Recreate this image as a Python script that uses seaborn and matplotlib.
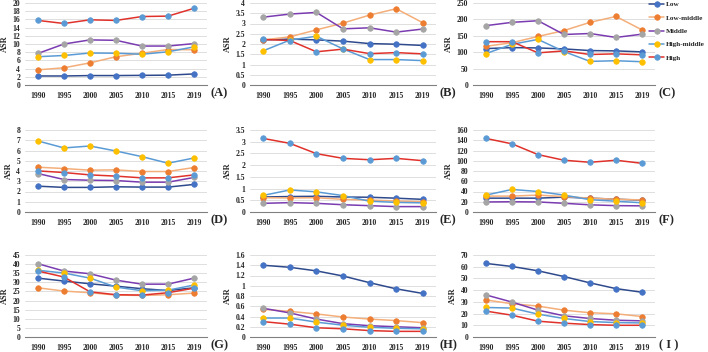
import matplotlib
matplotlib.use('Agg')
import matplotlib.pyplot as plt
import numpy as np
import pandas as pd
import seaborn as sns

# Age-standardised rates by SDI group, 1990-2019, one panel per measure.
years = ['1990', '1995', '2000', '2005', '2010', '2015', '2019']
groups = ['Low', 'Low-middle', 'Middle', 'High-middle', 'High']
panel_tags = ['(A)', '(B)', '(C)', '(D)', '(E)', '(F)', '(G)', '(H)', '( I )']

asr_a = {
    'Low':         [2.2, 2.2, 2.3, 2.3, 2.35, 2.4, 2.7],
    'Low-middle':  [3.7, 4.2, 5.4, 6.9, 7.75, 8.65, 8.6],
    'Middle':      [7.7, 10.0, 11.0, 10.9, 9.5, 9.5, 10.1],
    'High-middle': [6.9, 7.2, 7.8, 7.75, 7.5, 8.1, 9.3],
    'High':        [15.75, 15.0, 15.9, 15.75, 16.7, 16.8, 18.7],
}
asr_b = {
    'Low':         [2.2, 2.24, 2.2, 2.14, 2.02, 1.99, 1.93],
    'Low-middle':  [2.2, 2.35, 2.69, 3.02, 3.41, 3.72, 3.04],
    'Middle':      [3.31, 3.46, 3.54, 2.74, 2.79, 2.58, 2.73],
    'High-middle': [1.67, 2.19, 2.38, 1.76, 1.24, 1.24, 1.19],
    'High':        [2.22, 2.17, 1.62, 1.75, 1.53, 1.58, 1.52],
}
asr_c = {
    'Low':         [111, 114, 113, 110, 105, 104, 101],
    'Low-middle':  [118, 129, 148, 166, 191, 209, 168],
    'Middle':      [181, 191, 196, 154, 157, 145, 155],
    'High-middle': [96, 124, 139, 102, 72, 74, 71],
    'High':        [132, 132, 98, 104, 93, 95, 92],
}
asr_d = {
    'Low':         [2.52, 2.4, 2.4, 2.46, 2.43, 2.43, 2.69],
    'Low-middle':  [4.37, 4.24, 4.08, 4.11, 3.95, 3.95, 4.34],
    'Middle':      [3.75, 3.17, 3.1, 3.07, 2.91, 2.91, 3.37],
    'High-middle': [6.93, 6.25, 6.44, 5.95, 5.4, 4.76, 5.27],
    'High':        [4.01, 3.85, 3.62, 3.5, 3.33, 3.33, 3.62],
}
asr_e = {
    'Low':         [0.64, 0.66, 0.67, 0.64, 0.63, 0.59, 0.54],
    'Low-middle':  [0.61, 0.6, 0.61, 0.54, 0.51, 0.47, 0.44],
    'Middle':      [0.37, 0.4, 0.37, 0.31, 0.27, 0.23, 0.23],
    'High-middle': [0.71, 0.94, 0.86, 0.7, 0.46, 0.41, 0.39],
    'High':        [3.14, 2.93, 2.49, 2.29, 2.23, 2.29, 2.19],
}
asr_f = {
    'Low':         [27, 27, 27, 29, 27, 25, 23],
    'Low-middle':  [31, 31, 33, 30, 27, 25, 23.5],
    'Middle':      [19.6, 20, 19.6, 17, 14, 12.4, 12],
    'High-middle': [33, 44, 40, 33, 24, 21, 18],
    'High':        [143.5, 133, 112, 101, 97, 101, 95],
}
asr_g = {
    'Low':         [32.3, 30.7, 29.2, 27.9, 26.5, 25.5, 27.0],
    'Low-middle':  [27.0, 25.2, 24.3, 23.0, 22.8, 23.2, 24.1],
    'Middle':      [40.2, 36.2, 34.7, 31.2, 29.0, 29.0, 32.3],
    'High-middle': [36.6, 35.1, 32.3, 27.4, 25.4, 25.7, 28.5],
    'High':        [36.2, 32.9, 24.8, 23.2, 23.0, 24.3, 26.8],
}
asr_h = {
    'Low':         [1.40, 1.36, 1.29, 1.19, 1.06, 0.94, 0.85],
    'Low-middle':  [0.54, 0.5, 0.45, 0.39, 0.35, 0.32, 0.28],
    'Middle':      [0.56, 0.47, 0.35, 0.26, 0.22, 0.2, 0.18],
    'High-middle': [0.37, 0.37, 0.29, 0.23, 0.19, 0.17, 0.16],
    'High':        [0.3, 0.25, 0.18, 0.16, 0.125, 0.11, 0.11],
}
asr_i = {
    'Low':         [62.8, 60.2, 56.5, 51.6, 46.2, 41.3, 38.2],
    'Low-middle':  [31.6, 28.4, 26.4, 22.9, 20.7, 19.8, 17.5],
    'Middle':      [35.9, 29.8, 22.9, 18.1, 15.8, 14.3, 13.8],
    'High-middle': [25.2, 24.7, 19.5, 15.8, 13.2, 12.3, 12.0],
    'High':        [22.1, 18.6, 13.5, 11.8, 10.6, 10.0, 10.0],
}
panels = [asr_a, asr_b, asr_c, asr_d, asr_e, asr_f, asr_g, asr_h, asr_i]
y_max = [20, 4, 250, 8, 3.5, 160, 45, 1.6, 70]
y_step = [2, 0.5, 50, 1, 0.5, 20, 5, 0.2, 10]

# Excel-style: line colour and marker colour differ per series
line_colors = {'Low': '#2F4A8C', 'Low-middle': '#F4AE7A', 'Middle': '#7A3CB0',
               'High-middle': '#5B9BD5', 'High': '#E0322B'}
marker_colors = {'Low': '#4472C4', 'Low-middle': '#ED7D31', 'Middle': '#A5A5A5',
                 'High-middle': '#FFC000', 'High': '#5B9BD5'}

sns.set_style('white')
plt.rcParams['font.family'] = ['Liberation Serif', 'DejaVu Serif']
plt.rcParams['font.weight'] = 'bold'

fig = plt.figure(figsize=(7.08, 3.52), dpi=100)
W, H = 708, 352
col_px = [(25, 207), (250, 436), (473, 655)]
row_px = [(3, 85), (130, 212), (255, 337)]

axes = []
for r, (top, bot) in enumerate(row_px):
    for c, (left, right) in enumerate(col_px):
        axes.append(fig.add_axes([left / W, 1 - bot / H, (right - left) / W, (bot - top) / H]))

for i, (ax, data) in enumerate(zip(axes, panels)):
    for g in groups:
        df = pd.DataFrame({'year': years, 'asr': data[g]})
        sns.lineplot(data=df, x='year', y='asr', ax=ax, sort=False, errorbar=None,
                     color=line_colors[g], linewidth=1.1, marker='o', markersize=4,
                     label=g, legend=False)
        line = ax.lines[-1]
        line.set_markerfacecolor(marker_colors[g])
        line.set_markeredgecolor(marker_colors[g])
        line.set_markeredgewidth(0.5)
    ax.set_xlim(-0.5, len(years) - 0.5)
    ax.set_ylim(0, y_max[i])
    ticks = np.arange(0, y_max[i] + y_step[i] / 2, y_step[i])
    ax.set_yticks(ticks)
    ax.set_yticklabels([f'{t:g}' for t in ticks])
    ax.yaxis.grid(True, color='#D9D9D9', linewidth=0.6)
    ax.set_axisbelow(True)
    for s in ['top', 'right', 'left']:
        ax.spines[s].set_visible(False)
    ax.spines['bottom'].set_color('#808080')
    ax.spines['bottom'].set_linewidth(0.8)
    ax.set_xticks(range(len(years)))
    ax.set_xticklabels(years)
    ax.set_xticks(np.arange(-0.5, len(years), 1.0), minor=True)
    ax.tick_params(axis='x', which='major', length=0, labelsize=5.5, pad=5)
    ax.tick_params(axis='x', which='minor', length=2.5, width=0.6, color='#808080', direction='out')
    ax.tick_params(axis='y', length=0, labelsize=5.5, pad=3.5)
    ax.set_xlabel('')
    ax.set_ylabel('ASR', fontsize=6, fontweight='bold', labelpad=2.5)
    ax.text(1.02, -0.1, panel_tags[i], transform=ax.transAxes, ha='left', va='center',
            fontsize=9, fontweight='bold')

handles, labels = axes[2].get_legend_handles_labels()
fig.legend(handles[:5], labels[:5], loc='upper left', bbox_to_anchor=(648 / W, 1.0),
           frameon=False, fontsize=5.2, handlelength=2.0, labelspacing=1.0,
           handletextpad=0.3, borderaxespad=0.0, borderpad=0.2)

fig.savefig('out.png', dpi=100)
